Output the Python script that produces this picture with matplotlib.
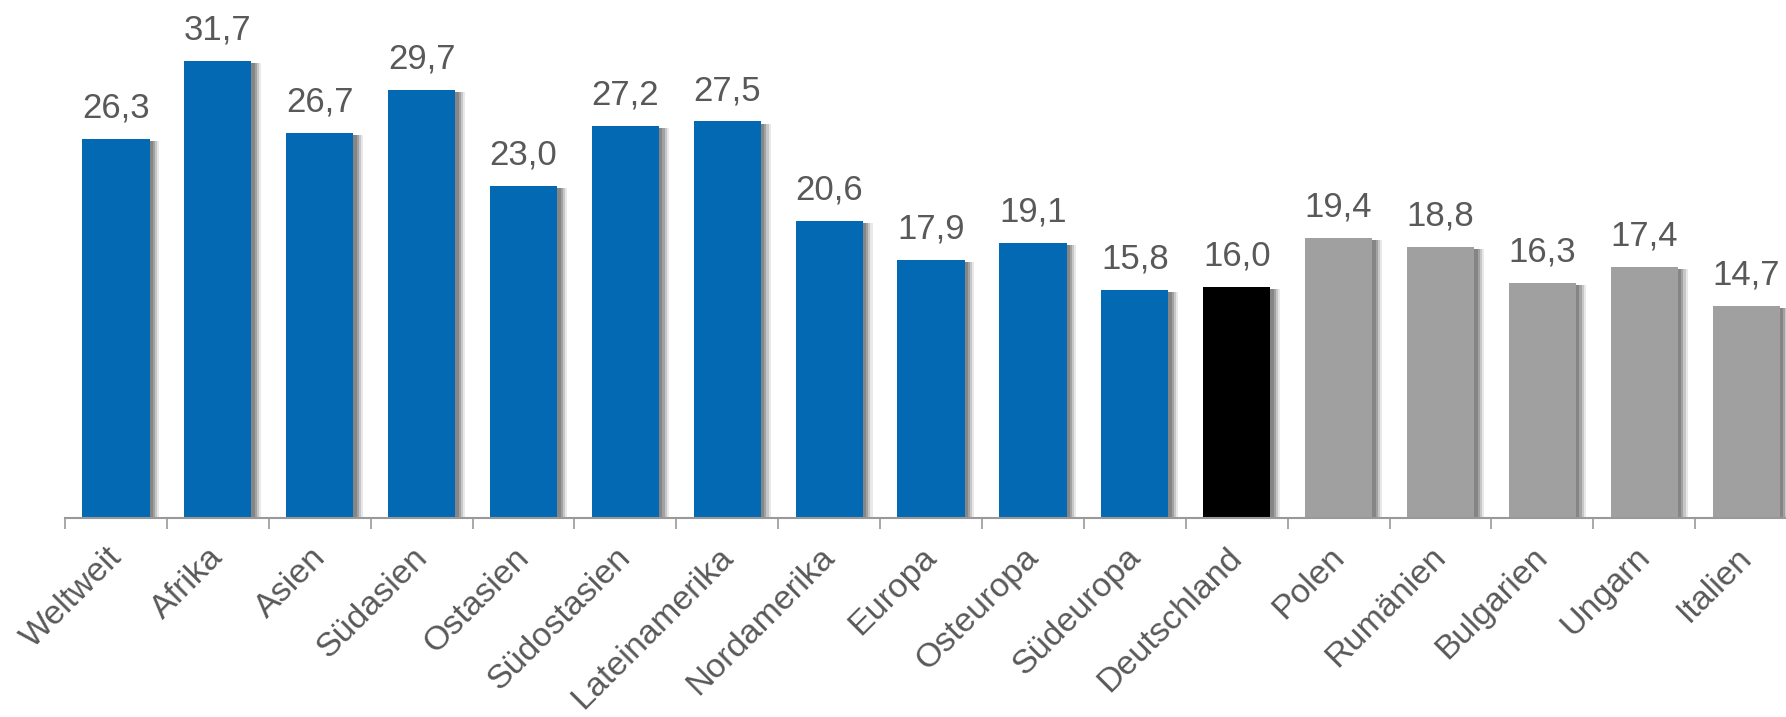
import numpy as np
import matplotlib.pyplot as plt
import matplotlib.patheffects as pe
import matplotlib.transforms as mtransforms

regionen = ['Weltweit', 'Afrika', 'Asien', 'Südasien', 'Ostasien', 'Südostasien',
            'Lateinamerika', 'Nordamerika', 'Europa', 'Osteuropa', 'Südeuropa',
            'Deutschland', 'Polen', 'Rumänien', 'Bulgarien', 'Ungarn', 'Italien']
werte = [26.3, 31.7, 26.7, 29.7, 23.0, 27.2, 27.5, 20.6, 17.9, 19.1, 15.8,
         16.0, 19.4, 18.8, 16.3, 17.4, 14.7]
gruppe = ['welt'] * 11 + ['de'] + ['eu'] * 5

farben = {'welt': '#0369b3', 'de': '#000000', 'eu': '#a0a0a0'}
textfarbe = '#595959'

plt.rcParams['font.family'] = ['Liberation Sans', 'DejaVu Sans']

fig = plt.figure(figsize=(17.86, 7.17), dpi=100)
ax = fig.add_axes([0.0364, 0.2775, 0.9698, 0.704])

x = np.arange(len(werte))
# weicher Schatten rechts neben den Balken
schatten = [pe.SimplePatchShadow(offset=(d, -1.5), shadow_rgbFace='#444444', alpha=a)
            for d, a in [(7, 0.12), (5.5, 0.2), (4, 0.28), (2.5, 0.3)]]
bars = ax.bar(x, werte, width=0.66, color=[farben[g] for g in gruppe],
              path_effects=schatten + [pe.Normal()])

for xi, w in zip(x, werte):
    ax.text(xi, w + 1.0, f'{w:.1f}'.replace('.', ','), ha='center', va='bottom',
            fontsize=25, color=textfarbe, clip_on=False)

ax.set_xlim(-0.5, len(werte) - 0.5)
ax.set_ylim(0, 35)

ax.set_xticks(np.arange(len(werte) + 1) - 0.5)
ax.set_xticklabels([])
ax.set_xticks(x, minor=True)
ax.set_xticklabels(regionen, minor=True, rotation=45, ha='right',
                   rotation_mode='anchor', fontsize=24.5, color=textfarbe)
ax.tick_params(axis='x', which='major', direction='out', length=8, width=1.2, color='#999999')
ax.tick_params(axis='x', which='minor', length=0, pad=22)
ax.set_yticks([])

verschiebung = mtransforms.ScaledTranslation(-0.10, 0.07, fig.dpi_scale_trans)
for lbl in ax.get_xticklabels(minor=True):
    lbl.set_transform(lbl.get_transform() + verschiebung)

for s in ['top', 'right', 'left']:
    ax.spines[s].set_visible(False)
ax.spines['bottom'].set_color('#999999')
ax.spines['bottom'].set_linewidth(1.5)

plt.savefig('out.png', dpi=100)
